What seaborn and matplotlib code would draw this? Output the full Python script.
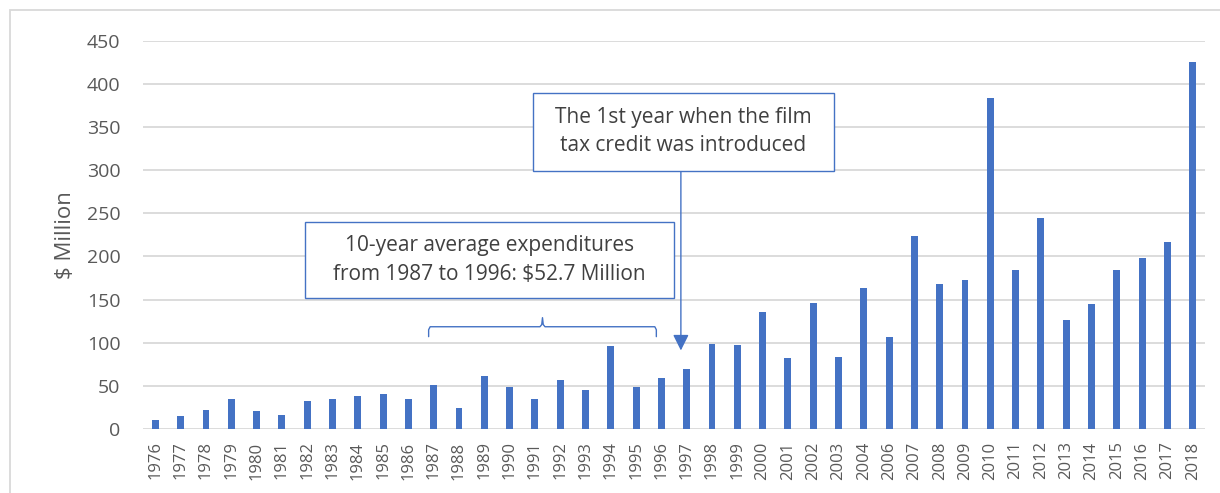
import numpy as np
import pandas as pd
import matplotlib
matplotlib.use("Agg")
import matplotlib.pyplot as plt
import seaborn as sns
from matplotlib.patches import Rectangle

years = ["1976", "1977", "1978", "1979", "1980", "1981", "1982", "1983", "1984", "1985",
         "1986", "1987", "1988", "1989", "1990", "1991", "1992", "1993", "1994", "1995",
         "1996", "1997", "1998", "1999", "2000", "2001", "2002", "2003", "2004", "2006",
         "2007", "2008", "2009", "2010", "2011", "2012", "2013", "2014", "2015", "2016",
         "2017", "2018"]
spend = [10.9, 15.5, 22.0, 34.5, 21.0, 16.7, 31.8, 34.9, 38.0, 40.3,
         34.9, 50.4, 24.4, 60.9, 48.1, 34.9, 56.6, 44.6, 96.5, 48.8,
         59.3, 70.0, 98.2, 97.4, 135.3, 82.3, 146.5, 83.1, 163.0, 106.7,
         223.4, 167.8, 172.4, 383.8, 184.4, 245.0, 126.0, 144.6, 184.0, 198.3,
         216.5, 425.2]
y_ticks = [0, 50, 100, 150, 200, 250, 300, 350, 400, 450]

avg_note = "10-year average expenditures\nfrom 1987 to 1996: $52.7 Million"
credit_note = "The 1st year when the film\ntax credit was introduced"

df = pd.DataFrame({"year": years, "spend": spend})

sns.set_theme(style="white")
plt.rcParams["font.family"] = ["Open Sans", "DejaVu Sans"]

BLUE = "#4472C4"
GREY = "#595959"

fig = plt.figure(figsize=(12.2, 4.93), dpi=100)
ax = fig.add_axes([0.117, 0.130, 0.871, 0.787])

sns.barplot(data=df, x="year", y="spend", color=BLUE, width=0.27,
            saturation=1, linewidth=0, ax=ax, zorder=3)

ax.set_ylim(0, 450)
ax.set_xlim(-0.5, len(years) - 0.5)
ax.set_yticks(y_ticks)
ax.yaxis.grid(True, color="#D9D9D9", linewidth=1.3, zorder=0)
ax.set_axisbelow(True)
for s in ax.spines.values():
    s.set_visible(False)
ax.tick_params(axis="y", length=0, pad=16, labelsize=14, labelcolor=GREY)
ax.tick_params(axis="x", length=0, pad=9, labelsize=12, labelcolor=GREY, rotation=90)
ax.set_xlabel("")
ax.set_ylabel("$ Million", fontsize=16, color=GREY, labelpad=8)

# annotation boxes (data coords)
def note_box(x0, x1, y0, y1, txt):
    ax.add_patch(Rectangle((x0, y0), x1 - x0, y1 - y0, fc="white", ec=BLUE,
                           lw=1, zorder=5))
    ax.text((x0 + x1) / 2, (y0 + y1) / 2, txt, ha="center", va="center",
            fontsize=15, color="#404040", linespacing=1.45, zorder=6)

note_box(5.93, 20.48, 152, 240, avg_note)
note_box(14.92, 26.82, 299, 390, credit_note)

# arrow to 1997
ax_x = 20.77
ax.annotate("", xy=(ax_x, 91), xytext=(ax_x, 299),
            arrowprops=dict(arrowstyle="-|>", color=BLUE, lw=1, mutation_scale=24,
                            shrinkA=0, shrinkB=0),
            zorder=4)

# brace over 1987-1996
x0, x1 = years.index("1987") - 0.2, years.index("1996") - 0.2
xm = (x0 + x1) / 2
bx = [x0, x0, x0 + 0.06, xm - 0.1, xm - 0.03, xm, xm + 0.03, xm + 0.1, x1 - 0.06, x1, x1]
by = [107, 115, 118.5, 118.5, 121, 129, 121, 118.5, 118.5, 115, 107]
ax.plot(bx, by, color=BLUE, lw=1, zorder=4)

# outer chart frame
fig.patches.append(Rectangle((10 / 1220, -0.1), 1.2, 1 - 10 / 493 + 0.1,
                             transform=fig.transFigure, fill=False,
                             ec="#D9D9D9", lw=1.3))

fig.savefig("out.png", dpi=100)
